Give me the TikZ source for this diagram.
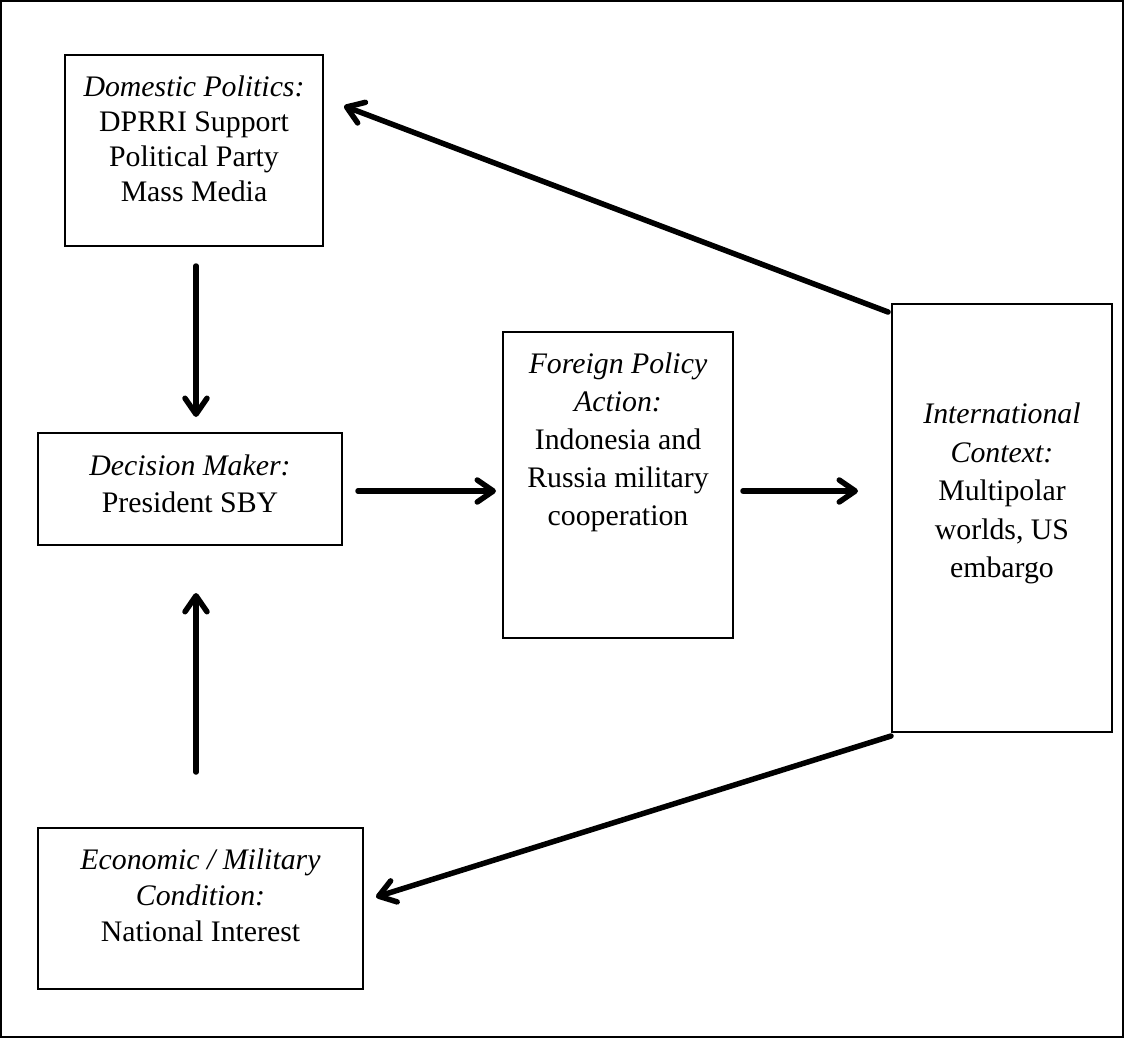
\documentclass[tikz,border=0pt]{standalone}
\usepackage{fontspec}
\setmainfont{Liberation Serif}
\usetikzlibrary{arrows.meta,calc}
\begin{document}
\begin{tikzpicture}[x=1pt,y=-1pt,
  box/.style={draw=black, line width=2pt, inner sep=0pt, rectangle},
  txt/.style={anchor=north, inner sep=0pt, align=center,
    font=\fontsize{29.8}{37}\selectfont},
  arr/.style={line width=5.5pt, line cap=round,
    -{Straight Barb[length=16pt,width=22pt,line join=round,line cap=round]}}
]
\useasboundingbox (0,0) rectangle (1124,1038);
\draw[line width=2pt] (1,1) rectangle (1123,1037);

% boxes
\node[box, minimum width=258pt, minimum height=191pt] (dom) at (194,150.5) {};
\node[box, minimum width=304pt, minimum height=112pt] (dec) at (190,489) {};
\node[box, minimum width=230pt, minimum height=306pt] (for) at (618,485) {};
\node[box, minimum width=220pt, minimum height=428pt] (intl) at (1002,518) {};
\node[box, minimum width=325pt, minimum height=161pt] (eco) at (200.5,908.5) {};

% texts
\node[txt, font=\fontsize{29.8}{35}\selectfont] (domt) at (194,76) {\textit{Domestic Politics:}\\DPRRI Support\\Political Party\\Mass Media};
\node[txt] (dect) at (190,455) {\textit{Decision Maker:}\\President SBY};
\node[txt, font=\fontsize{29.8}{38}\selectfont] (fort) at (618,353) {\textit{Foreign Policy}\\\textit{Action:}\\Indonesia and\\Russia military\\cooperation};
\node[txt, font=\fontsize{29.8}{38.5}\selectfont] (intlt) at (1002,403) {\textit{International}\\\textit{Context:}\\Multipolar\\worlds, US\\embargo};
\node[txt, font=\fontsize{29.8}{36}\selectfont] (ecot) at (200.5,849) {\textit{Economic / Military}\\\textit{Condition:}\\National Interest};

% connectors
\draw[arr] ($(dom.south)+(2,19)$) -- ($(dec.north)+(6,-15)$);
\draw[arr] ($(eco.north)+(-4.5,-55)$) -- ($(dec.south)+(6,47)$);
\draw[arr] ($(dec.east)+(15,2)$) -- ($(for.west)+(-6,6)$);
\draw[arr] ($(for.east)+(9,6)$) -- ($(intl.west)+(-33,-27)$);
\draw[arr] ($(intl.north west)+(-3,9)$) -- ($(dom.east)+(20,-44.5)$);
\draw[arr] ($(intl.south west)+(0,3)$) -- ($(eco.east)+(12,-11.5)$);
\end{tikzpicture}
\end{document}
